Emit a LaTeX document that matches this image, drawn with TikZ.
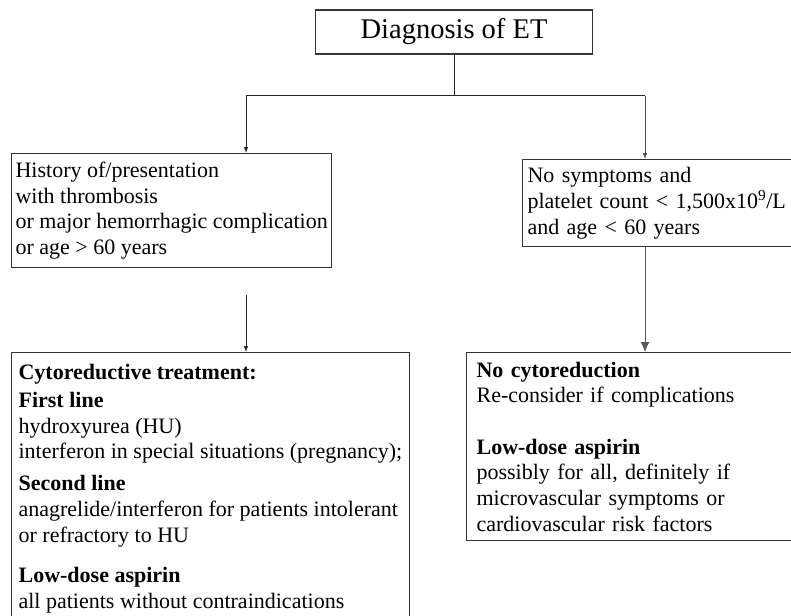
\documentclass[tikz,border=0pt]{standalone}
\usepackage{fontspec}
\setmainfont{Liberation Serif}
\usetikzlibrary{arrows.meta}

\begin{document}
\begin{tikzpicture}[x=1pt,y=-1pt,
    box/.style={draw=black!80, line width=1.2pt, align=left, anchor=north west, font=\fontsize{22}{25.7}\selectfont},
    tip/.style={-{Latex[length=6pt,width=4.5pt]}, line width=0.8pt, draw=black!85},
    bigtip/.style={-{Latex[length=10pt,width=9pt]}, line width=0.8pt, draw=black!65, fill=black}]
    \clip (0,0) rectangle (791,615);
    \node[draw=black!80, line width=1.2pt, minimum width=277pt, minimum height=44pt, font=\fontsize{28.5}{32}\selectfont] (diag) at (454,32) {Diagnosis of ET};
    \node[box, inner xsep=4pt, minimum height=114pt] (hist) at (11,153) {History of/presentation\\with thrombosis\\or major hemorrhagic complication\\or age > 60 years};
    \node[box, inner xsep=5pt, text width=275pt, minimum height=87pt] (nosym) at (522,159) {No symptoms and\\platelet count < 1,500x10\textsuperscript{9}/L\\and age < 60 years};
    \node[box, inner xsep=7pt, inner ysep=12pt] (cyto) at (11,352) {\textbf{Cytoreductive treatment:}\\[2pt]\textbf{First line}\\hydroxyurea (HU)\\interferon in special situations (pregnancy);\\[6pt]\textbf{Second line}\\anagrelide/interferon for patients intolerant\\or refractory to HU\\[15pt]\textbf{Low-dose aspirin}\\all patients without contraindications};
    \node[box, inner xsep=10pt, text width=330pt, minimum height=188pt] (nocyto) at (466,352) {\textbf{No cytoreduction}\\Re-consider if complications\\[25.7pt]\textbf{Low-dose aspirin}\\possibly for all, definitely if\\microvascular symptoms or\\cardiovascular risk factors};

    \coordinate (fork) at (454,96);
    \coordinate (lcol) at (246,96);
    \coordinate (rcol) at (645,96);
    \coordinate (lstart) at (246,295);

    \draw[line width=1pt, black!85] (diag.south) -- (fork);
    \draw[line width=1pt, black!85] (lcol) -- (rcol);
    \draw[tip] (lcol) -- (lcol |- hist.north);
    \draw[tip, draw=black!70] (rcol) -- (rcol |- nosym.north);
    \draw[tip] (lstart) -- (lstart |- cyto.north);
    \draw[bigtip] (rcol |- nosym.south) -- (rcol |- nocyto.north);
\end{tikzpicture}
\end{document}
